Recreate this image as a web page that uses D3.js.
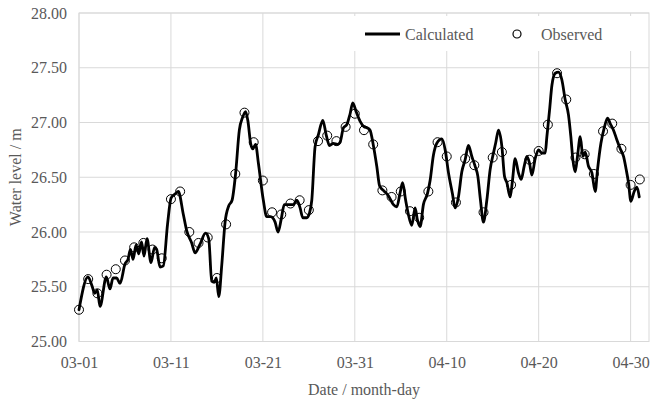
<!DOCTYPE html>
<html>
<head>
<meta charset="utf-8">
<script src="https://cdn.jsdelivr.net/npm/d3@7"></script>
<style>
  html, body { margin: 0; padding: 0; background: #fff; }
  svg { display: block; }
  text { font-family: "Liberation Serif", "Times New Roman", serif; fill: #595959; }
</style>
</head>
<body>
<svg id="chart" width="650" height="399"></svg>
<script>
// Calculated water level (days since 03-01 00:00, metres)
const calcDay = [
  0.00, 0.98, 1.41, 1.71, 1.99, 2.29, 2.97, 3.37, 3.70, 4.10,
  4.46, 5.01, 5.33, 5.60, 5.88, 6.20, 6.50, 6.80, 7.07, 7.40,
  7.83, 8.22, 8.45, 8.81, 9.17, 9.63, 10.01, 10.50, 10.80, 11.35,
  11.72, 12.26, 12.62, 13.17, 13.76, 14.11, 14.44, 14.71, 14.94, 15.20,
  15.53, 15.89, 16.29, 16.65, 17.03, 17.44, 17.81, 18.12, 18.36, 18.69,
  18.90, 19.21, 19.51, 20.05, 20.42, 20.84, 21.33, 21.65, 22.00, 22.33,
  22.77, 23.32, 23.69, 24.05, 24.34, 24.78, 25.06, 25.32, 25.68, 26.04,
  26.52, 26.88, 27.24, 27.67, 28.11, 28.40, 28.76, 29.13, 29.49, 29.78,
  30.14, 30.58, 31.01, 31.37, 31.66, 32.02, 32.39, 32.70, 33.11, 33.66,
  34.20, 34.57, 34.93, 35.20, 35.53, 35.83, 36.20, 36.56, 36.81, 37.11,
  37.46, 37.90, 38.19, 38.55, 38.92, 39.47, 39.83, 40.19, 40.62, 40.91,
  41.27, 41.64, 42.00, 42.36, 42.73, 43.09, 43.38, 43.67, 43.99, 44.36,
  44.72, 45.08, 45.34, 45.63, 46.00, 46.28, 46.54, 46.90, 47.15, 47.44,
  47.80, 48.10, 48.42, 48.72, 49.00, 49.26, 49.62, 49.98, 50.35, 50.71,
  50.89, 51.18, 51.44, 51.80, 52.15, 52.52, 52.88, 53.24, 53.50, 53.72,
  53.97, 54.22, 54.52, 54.81, 55.06, 55.42, 55.79, 56.15, 56.40, 56.77,
  57.13, 57.49, 57.78, 58.14, 58.51, 58.87, 59.23, 59.52, 59.77, 60.03,
  60.39, 60.69, 60.94
];
const calcLevel = [
  25.29, 25.59, 25.51, 25.44, 25.47, 25.32, 25.59, 25.48, 25.58, 25.58,
  25.53, 25.71, 25.75, 25.84, 25.75, 25.88, 25.80, 25.91, 25.78, 25.94,
  25.72, 25.86, 25.84, 25.68, 25.69, 26.07, 26.31, 26.35, 26.37, 26.16,
  26.01, 25.90, 25.81, 25.89, 25.99, 25.94, 25.55, 25.54, 25.58, 25.41,
  25.70, 26.09, 26.24, 26.29, 26.53, 26.93, 27.05, 27.10, 27.02, 26.80,
  26.76, 26.80, 26.63, 26.29, 26.14, 26.14, 26.09, 26.00, 26.12, 26.25,
  26.25, 26.25, 26.29, 26.22, 26.13, 26.13, 26.17, 26.29, 26.78, 26.89,
  27.02, 26.89, 26.79, 26.81, 26.80, 26.82, 26.95, 26.98, 27.08, 27.18,
  27.10, 27.01, 26.96, 26.95, 26.93, 26.79, 26.60, 26.42, 26.38, 26.33,
  26.25, 26.23, 26.36, 26.45, 26.29, 26.16, 26.06, 26.22, 26.11, 26.05,
  26.25, 26.35, 26.47, 26.70, 26.81, 26.85, 26.75, 26.54, 26.35, 26.22,
  26.32, 26.55, 26.66, 26.79, 26.69, 26.60, 26.51, 26.29, 26.09, 26.29,
  26.57, 26.72, 26.82, 26.93, 26.78, 26.51, 26.45, 26.32, 26.47, 26.67,
  26.54, 26.48, 26.60, 26.69, 26.63, 26.52, 26.67, 26.75, 26.72, 26.72,
  26.87, 27.11, 27.34, 27.45, 27.46, 27.39, 27.21, 27.07, 26.87, 26.66,
  26.55, 26.69, 26.87, 26.69, 26.73, 26.60, 26.54, 26.37, 26.57, 26.81,
  26.95, 27.04, 26.99, 26.93, 26.84, 26.76, 26.69, 26.57, 26.45, 26.28,
  26.37, 26.41, 26.32
];

// Observed daily water level
const obsDay = [
  0, 1, 2, 3, 4, 5, 6, 7, 8, 9, 10, 11, 12, 13, 14, 15, 16, 17, 18, 19,
  20, 21, 22, 23, 24, 25, 26, 27, 28, 29, 30, 31, 32, 33, 34, 35, 36, 37, 38, 39,
  40, 41, 42, 43, 44, 45, 46, 47, 49, 50, 51, 52, 53, 54, 55, 56, 57, 58, 59, 60, 61
];
const obsLevel = [
  25.29, 25.57, 25.44, 25.61, 25.66, 25.74, 25.86, 25.90, 25.84, 25.76,
  26.30, 26.37, 26.00, 25.90, 25.95, 25.58, 26.07, 26.53, 27.09, 26.82,
  26.47, 26.18, 26.16, 26.26, 26.29, 26.20, 26.83, 26.88, 26.83, 26.96,
  27.08, 26.93, 26.80, 26.38, 26.32, 26.37, 26.19, 26.13, 26.37, 26.82,
  26.69, 26.27, 26.67, 26.61, 26.18, 26.68, 26.73, 26.43, 26.66, 26.74,
  26.98, 27.45, 27.21, 26.68, 26.71, 26.53, 26.92, 26.99, 26.76, 26.43, 26.48
];

// Axis ticks
const xTickDays = [0, 10, 20, 30, 40, 50, 60];
const xTickLabels = ["03-01", "03-11", "03-21", "03-31", "04-10", "04-20", "04-30"];
const yTicks = [25, 25.5, 26, 26.5, 27, 27.5, 28];

const svg = d3.select("#chart");
const plot = { left: 79, right: 649, top: 13, bottom: 341.5 };

const x = d3.scaleLinear().domain([0, 62]).range([plot.left, plot.right]);
const y = d3.scaleLinear().domain([25, 28]).range([plot.bottom, plot.top]);

const gridColor = "#d9d9d9";

// Horizontal grid lines
svg.append("g")
  .selectAll("line")
  .data(yTicks)
  .join("line")
  .attr("x1", plot.left).attr("x2", plot.right)
  .attr("y1", d => y(d)).attr("y2", d => y(d))
  .attr("stroke", gridColor).attr("stroke-width", 1);

// Vertical grid lines
svg.append("g")
  .selectAll("line")
  .data(xTickDays)
  .join("line")
  .attr("x1", d => x(d)).attr("x2", d => x(d))
  .attr("y1", plot.top).attr("y2", plot.bottom)
  .attr("stroke", gridColor).attr("stroke-width", 1);

// Plot frame
svg.append("rect")
  .attr("x", plot.left).attr("y", plot.top)
  .attr("width", plot.right - plot.left).attr("height", plot.bottom - plot.top)
  .attr("fill", "none").attr("stroke", gridColor).attr("stroke-width", 1);

// Y axis labels
const yAxis = d3.axisLeft(y).tickValues(yTicks).tickFormat(d3.format(".2f")).tickSize(0).tickPadding(12);
const gy = svg.append("g").attr("transform", `translate(${plot.left},0)`).call(yAxis);
gy.select(".domain").remove();
gy.selectAll("text")
  .attr("font-size", 16)
  .attr("font-family", "'Liberation Serif', 'Times New Roman', serif")
  .attr("fill", "#595959");

// X axis labels
const xAxis = d3.axisBottom(x).tickValues(xTickDays)
  .tickFormat((d, i) => xTickLabels[i]).tickSize(0).tickPadding(15);
const gx = svg.append("g").attr("transform", `translate(0,${plot.bottom})`).call(xAxis);
gx.select(".domain").remove();
gx.selectAll("text")
  .attr("font-size", 16)
  .attr("font-family", "'Liberation Serif', 'Times New Roman', serif")
  .attr("fill", "#595959");

// Axis titles
svg.append("text")
  .attr("x", 364).attr("y", 395)
  .attr("text-anchor", "middle")
  .attr("font-size", 16)
  .text("Date / month-day");

svg.append("text")
  .attr("transform", `translate(21,${(plot.top + plot.bottom) / 2}) rotate(-90)`)
  .attr("text-anchor", "middle")
  .attr("font-size", 16)
  .text("Water level / m");

// Calculated series
const calcPts = calcDay.map((d, i) => [d, calcLevel[i]]);
const line = d3.line()
  .x(d => x(d[0]))
  .y(d => y(d[1]))
  .curve(d3.curveMonotoneX);

svg.append("path")
  .datum(calcPts)
  .attr("d", line)
  .attr("fill", "none")
  .attr("stroke", "#000")
  .attr("stroke-width", 2.8)
  .attr("stroke-linejoin", "round")
  .attr("stroke-linecap", "round");

// Observed series
svg.append("g")
  .selectAll("circle")
  .data(obsDay.map((d, i) => [d, obsLevel[i]]))
  .join("circle")
  .attr("cx", d => x(d[0]))
  .attr("cy", d => y(d[1]))
  .attr("r", 4.5)
  .attr("fill", "none")
  .attr("stroke", "#000")
  .attr("stroke-width", 1);

// Legend
const legend = svg.append("g");
legend.append("rect")
  .attr("x", 349).attr("y", 16).attr("width", 292).attr("height", 35)
  .attr("fill", "#fff");
legend.append("line")
  .attr("x1", 365).attr("x2", 400).attr("y1", 34).attr("y2", 34)
  .attr("stroke", "#000").attr("stroke-width", 2.8);
legend.append("text")
  .attr("x", 405).attr("y", 39.5)
  .attr("font-size", 16)
  .text("Calculated");
legend.append("circle")
  .attr("cx", 517).attr("cy", 34).attr("r", 4)
  .attr("fill", "none").attr("stroke", "#000").attr("stroke-width", 1.2);
legend.append("text")
  .attr("x", 541).attr("y", 39.5)
  .attr("font-size", 16)
  .text("Observed");
</script>
</body>
</html>
